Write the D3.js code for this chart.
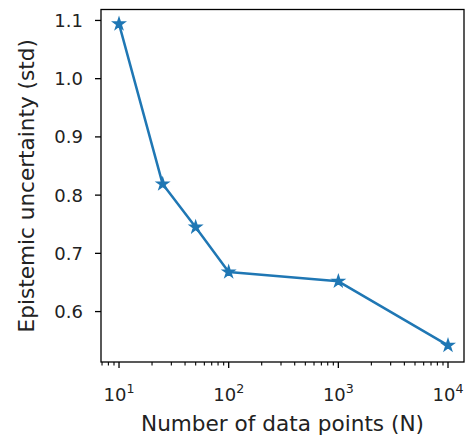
<!DOCTYPE html>
<html>
<head>
<meta charset="utf-8">
<script src="https://cdn.jsdelivr.net/npm/d3@7"></script>
<style>
  body { margin: 0; background: #fff; }
  svg { display: block; font-family: "DejaVu Sans", sans-serif; }
</style>
</head>
<body>
<svg id="chart" width="467" height="437"></svg>
<script>
// data
const nPoints = [10, 25, 50, 100, 1000, 10000];
const stdValues = [1.094, 0.819, 0.745, 0.668, 0.652, 0.542];
const yTicks = [0.6, 0.7, 0.8, 0.9, 1.0, 1.1];
const xTicks = [10, 100, 1000, 10000];

const width = 467, height = 437;
const margin = { top: 9.5, right: 3, bottom: 75, left: 101 };
const color = '#1f77b4';
const tickSize = 18;
const labelSize = 21.6;

const svg = d3.select('#chart');

const xScale = d3.scaleLog()
    .domain([6.85, 13990])
    .range([margin.left, width - margin.right]);
const yScale = d3.scaleLinear()
    .domain([0.5134, 1.1188])
    .range([height - margin.bottom, margin.top]);

const x0 = xScale.range()[0], x1 = xScale.range()[1];
const y0 = yScale.range()[0], y1 = yScale.range()[1];

// minor ticks for the log axis
const minorTicks = [];
for (let d = 1; d <= 1000; d *= 10) {
    for (let k = 2; k <= 9; k++) minorTicks.push(k * d);
}
const minorInDomain = minorTicks.filter(v => v >= xScale.domain()[0] && v <= xScale.domain()[1]);

// x axis
const xAxis = svg.append('g').attr('transform', `translate(0,${y0})`);
xAxis.selectAll('line.minor')
    .data(minorInDomain)
    .join('line')
    .attr('class', 'minor')
    .attr('x1', d => xScale(d)).attr('x2', d => xScale(d))
    .attr('y1', 0).attr('y2', 3.5)
    .attr('stroke', '#000').attr('stroke-width', 1.1);
xAxis.selectAll('line.major')
    .data(xTicks)
    .join('line')
    .attr('class', 'major')
    .attr('x1', d => xScale(d)).attr('x2', d => xScale(d))
    .attr('y1', 0).attr('y2', 6)
    .attr('stroke', '#000').attr('stroke-width', 1.3);
const xLabels = xAxis.selectAll('text')
    .data(xTicks)
    .join('text')
    .attr('x', d => xScale(d))
    .attr('y', 39)
    .attr('text-anchor', 'middle')
    .attr('font-size', tickSize)
    .attr('fill', '#222');
xLabels.append('tspan').text('10');
xLabels.append('tspan')
    .attr('dy', -8)
    .attr('font-size', 12.6)
    .text(d => Math.round(Math.log10(d)));

// y axis
const yAxis = svg.append('g').attr('transform', `translate(${x0},0)`);
yAxis.selectAll('line')
    .data(yTicks)
    .join('line')
    .attr('x1', -6).attr('x2', 0)
    .attr('y1', d => yScale(d)).attr('y2', d => yScale(d))
    .attr('stroke', '#000').attr('stroke-width', 1.3);
yAxis.selectAll('text')
    .data(yTicks)
    .join('text')
    .attr('x', -18)
    .attr('y', d => yScale(d))
    .attr('dy', '0.36em')
    .attr('text-anchor', 'end')
    .attr('font-size', tickSize)
    .attr('fill', '#222')
    .text(d => d.toFixed(1));

// frame
svg.append('rect')
    .attr('x', x0).attr('y', y1)
    .attr('width', x1 - x0).attr('height', y0 - y1)
    .attr('fill', 'none')
    .attr('stroke', '#000')
    .attr('stroke-width', 1.3);

// axis titles
svg.append('text')
    .attr('x', (x0 + x1) / 2)
    .attr('y', 431)
    .attr('text-anchor', 'middle')
    .attr('font-size', labelSize)
    .attr('fill', '#222')
    .text('Number of data points (N)');
svg.append('text')
    .attr('transform', `translate(33.5,${(y0 + y1) / 2}) rotate(-90)`)
    .attr('text-anchor', 'middle')
    .attr('font-size', labelSize)
    .attr('fill', '#222')
    .text('Epistemic uncertainty (std)');

// line and markers
const points = nPoints.map((n, i) => ({ n, v: stdValues[i] }));
const line = d3.line().x(d => xScale(d.n)).y(d => yScale(d.v));
svg.append('path')
    .datum(points)
    .attr('d', line)
    .attr('fill', 'none')
    .attr('stroke', color)
    .attr('stroke-width', 2.5)
    .attr('stroke-linejoin', 'round')
    .attr('stroke-linecap', 'round');

const star = d3.symbol().type(d3.symbolStar).size(40);
svg.selectAll('path.marker')
    .data(points)
    .join('path')
    .attr('class', 'marker')
    .attr('transform', d => `translate(${xScale(d.n)},${yScale(d.v)})`)
    .attr('d', star)
    .attr('fill', color)
    .attr('stroke', color)
    .attr('stroke-width', 1.5)
    .attr('stroke-linejoin', 'miter');
</script>
</body>
</html>
